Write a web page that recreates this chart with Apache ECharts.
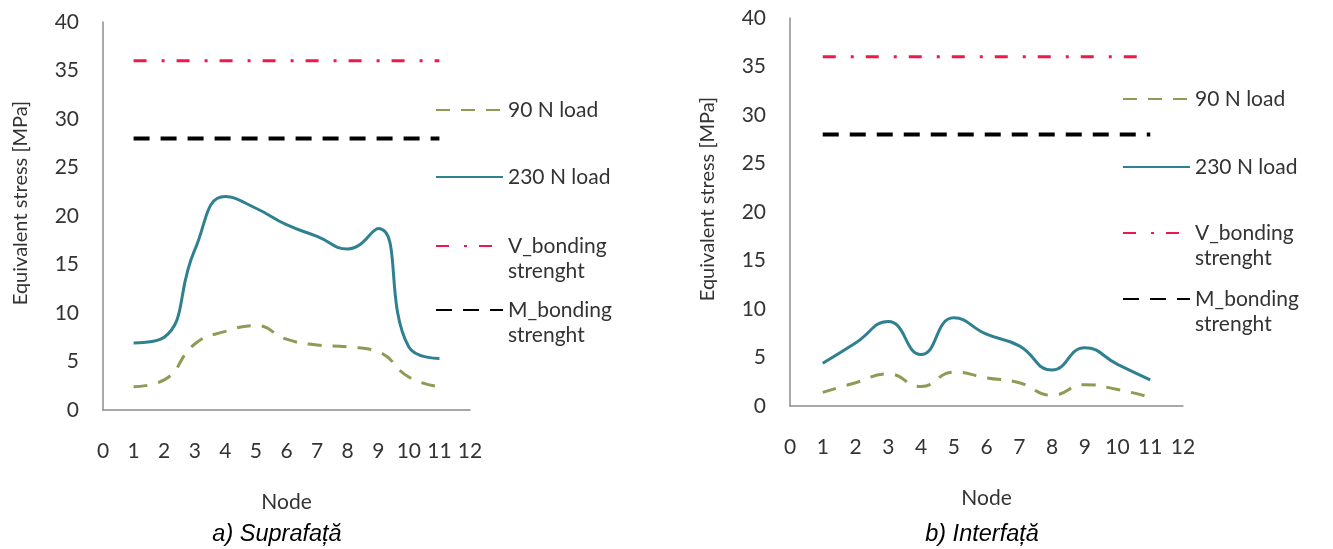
<!DOCTYPE html>
<html>
<head>
<meta charset="utf-8">
<script src="https://cdn.jsdelivr.net/npm/echarts@6/dist/echarts.min.js"></script>
<style>
  html, body { margin: 0; padding: 0; background: #ffffff; }
  #chart { width: 1333px; height: 549px; }
</style>
</head>
<body>
<div id="chart"></div>
<script>
// Nodes along the measurement path
const nodes = [1, 2, 3, 4, 5, 6, 7, 8, 9, 10, 11];

// a) Suprafață — equivalent stress [MPa]
const surfaceLoad90 = [2.4, 3.1, 6.8, 8.1, 8.7, 7.3, 6.7, 6.5, 6.0, 3.4, 2.4];
const surfaceLoad230 = [6.9, 7.5, 16.5, 22.0, 20.8, 19.1, 17.9, 16.6, 18.7, 6.5, 5.3];

// b) Interfață — equivalent stress [MPa]
const interfaceLoad90 = [1.4, 2.4, 3.3, 2.0, 3.5, 2.9, 2.4, 1.1, 2.2, 1.7, 0.9];
const interfaceLoad230 = [4.4, 6.5, 8.7, 5.3, 9.1, 7.4, 6.2, 3.7, 6.0, 4.3, 2.7];

// Bonding strength limits [MPa]
const vBonding = [36, 36, 36, 36, 36, 36, 36, 36, 36, 36, 36];
const mBonding = [28, 28, 28, 28, 28, 28, 28, 28, 28, 28, 28];

// Axis ticks: [min, max, step]
const xTicks = [0, 12, 1];
const yTicks = [0, 40, 5];

const NAME_90 = '90 N load';
const NAME_230 = '230 N load';
const NAME_V = 'V_bonding strenght';
const NAME_M = 'M_bonding strenght';

const FONT = 'Lato, "Open Sans", sans-serif';
const TEXT_COLOR = '#333333';
const AXIS_COLOR = '#8c8c8c';

const pairs = (ys) => nodes.map((n, i) => [n, ys[i]]);

function makeXAxis(gridIndex) {
  return {
    type: 'value', gridIndex,
    min: xTicks[0], max: xTicks[1], interval: xTicks[2],
    name: 'Node', nameLocation: 'middle', nameGap: 82,
    nameTextStyle: { fontFamily: FONT, fontSize: 21, color: TEXT_COLOR },
    axisLine: { show: true, onZero: false, lineStyle: { color: AXIS_COLOR, width: 1.5 } },
    axisTick: { show: false },
    splitLine: { show: false },
    axisLabel: { margin: 31, fontFamily: FONT, fontSize: 21, color: TEXT_COLOR }
  };
}

function makeYAxis(gridIndex) {
  return {
    type: 'value', gridIndex,
    min: yTicks[0], max: yTicks[1], interval: yTicks[2],
    name: 'Equivalent stress [MPa]', nameLocation: 'middle', nameRotate: 90, nameGap: 72,
    nameTextStyle: { fontFamily: FONT, fontSize: 20, color: TEXT_COLOR, padding: [0, 0, 0, 26] },
    axisLine: { show: true, lineStyle: { color: AXIS_COLOR, width: 1.5 } },
    axisTick: { show: false },
    splitLine: { show: false },
    axisLabel: { margin: 24, fontFamily: FONT, fontSize: 21, color: TEXT_COLOR }
  };
}

function makeSeries(idx, load90, load230) {
  const common = { type: 'line', xAxisIndex: idx, yAxisIndex: idx, symbol: 'none', silent: true, z: 3 };
  return [
    Object.assign({}, common, {
      name: NAME_90, data: pairs(load90), smooth: 0.5,
      lineStyle: { color: '#8f9a55', width: 3, type: [14, 11] }, itemStyle: { color: '#8f9a55' }
    }),
    Object.assign({}, common, {
      name: NAME_230, data: pairs(load230), smooth: 0.5,
      lineStyle: { color: '#2f8090', width: 3, type: 'solid' }, itemStyle: { color: '#2f8090' }
    }),
    Object.assign({}, common, {
      name: NAME_V, data: pairs(vBonding),
      lineStyle: { color: '#f0174a', width: 3, type: [13, 15, 3, 12] }, itemStyle: { color: '#f0174a' }
    }),
    Object.assign({}, common, {
      name: NAME_M, data: pairs(mBonding),
      lineStyle: { color: '#000000', width: 4, type: [16, 11] }, itemStyle: { color: '#000000' }
    })
  ];
}

// one legend entry per block, so each can sit at its own height;
// two-line names keep the line sample beside their first line
function legendEntry(name, left, iconCenterY, twoLines) {
  const lh = 25;
  const base = {
    data: [name], left, orient: 'vertical', selectedMode: false,
    itemWidth: 67, itemHeight: 14, padding: 0,
    itemStyle: { color: 'rgba(0,0,0,0)', borderWidth: 0, opacity: 0 },
    textStyle: { fontFamily: FONT, fontSize: 21, color: TEXT_COLOR, lineHeight: lh }
  };
  if (twoLines) {
    base.formatter = (n) => ' \n' + n.replace(' ', '\n');
    base.top = iconCenterY - 1.5 * lh;
  } else {
    base.top = iconCenterY - lh / 2;
  }
  return base;
}

const option = {
  backgroundColor: '#ffffff',
  animation: false,
  grid: [
    { left: 103, top: 22, width: 367, height: 388 },
    { left: 790, top: 18, width: 393, height: 388 }
  ],
  xAxis: [makeXAxis(0), makeXAxis(1)],
  yAxis: [makeYAxis(0), makeYAxis(1)],
  legend: [
    legendEntry(NAME_90, 435, 110, false),
    legendEntry(NAME_230, 435, 177, false),
    legendEntry(NAME_V, 435, 246, true),
    legendEntry(NAME_M, 435, 310, true),
    legendEntry(NAME_90, 1122, 99, false),
    legendEntry(NAME_230, 1122, 167, false),
    legendEntry(NAME_V, 1122, 233, true),
    legendEntry(NAME_M, 1122, 299, true)
  ],
  series: [].concat(
    makeSeries(0, surfaceLoad90, surfaceLoad230),
    makeSeries(1, interfaceLoad90, interfaceLoad230)
  ),
  graphic: [
    {
      type: 'text', x: 277, y: 534,
      style: { text: 'a) Suprafață', fontFamily: '"Liberation Sans", Arial, sans-serif', fontStyle: 'italic',
               fontSize: 23.5, fill: '#000000', align: 'center', verticalAlign: 'middle' }
    },
    {
      type: 'text', x: 982, y: 534,
      style: { text: 'b) Interfață', fontFamily: '"Liberation Sans", Arial, sans-serif', fontStyle: 'italic',
               fontSize: 23.5, fill: '#000000', align: 'center', verticalAlign: 'middle' }
    }
  ]
};

const chart = echarts.init(document.getElementById('chart'), null, { renderer: 'canvas' });
chart.setOption(option);
</script>
</body>
</html>
